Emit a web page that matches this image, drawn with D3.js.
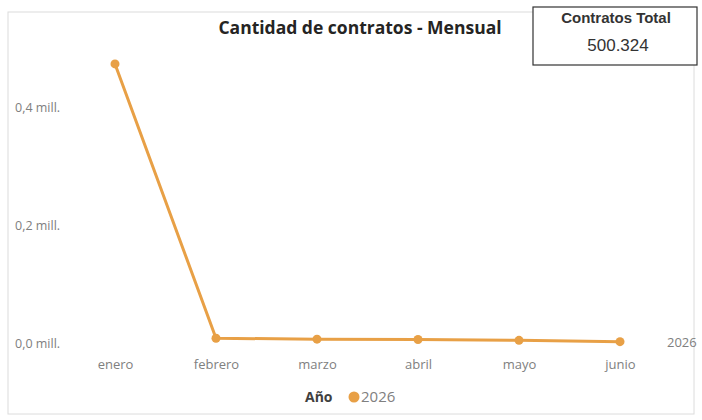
<!DOCTYPE html>
<html><head><meta charset="utf-8">
<script src="https://cdn.jsdelivr.net/npm/d3@7"></script>
<style>
html,body{margin:0;padding:0;background:#fff;}
svg{display:block;font-family:"Open Sans","Noto Sans",sans-serif;}
</style></head>
<body>
<svg id="c" width="702" height="420"></svg>
<script>
const months = ["enero","febrero","marzo","abril","mayo","junio"];
const values = [473024, 8000, 6500, 6000, 4500, 2300];
const yTicks = [0, 200000, 400000];
const seriesName = "2026";
const legendTitle = "Año";
const chartTitle = "Cantidad de contratos - Mensual";
const cardTitle = "Contratos Total";
const cardValue = "500.324";

const svg = d3.select("#c");
const color = "#E8A046";
const grey = "#808080";

// visual frame
svg.append("rect").attr("x",8).attr("y",12).attr("width",686).attr("height",402)
  .attr("fill","#fff").attr("stroke","#dcdcdc").attr("stroke-width",1);

const x = d3.scalePoint().domain(months).range([115, 620]);
const y = d3.scaleLinear().domain([0, 500000]).range([343, 48]);

// title
svg.append("text").attr("x",360).attr("y",34).attr("text-anchor","middle")
  .attr("font-size",17.5).attr("font-weight",700).attr("fill","#252423").text(chartTitle);

// y axis labels
const fmt = v => (v/1e6).toFixed(1).replace(".", ",") + " mill.";
const yAxis = d3.axisLeft(y).tickValues(yTicks).tickFormat(fmt).tickSize(0).tickPadding(0);
const yg = svg.append("g").attr("transform","translate(15,0)").call(yAxis);
yg.select(".domain").remove();
yg.selectAll("text").attr("text-anchor","start").attr("font-size",12.5)
  .attr("fill",grey).attr("font-family","'Open Sans','Noto Sans',sans-serif");

// x axis labels
const xAxis = d3.axisBottom(x).tickSize(0).tickPadding(0);
const xg = svg.append("g").attr("transform","translate(0,360)").call(xAxis);
xg.select(".domain").remove();
xg.selectAll("text").attr("font-size",13).attr("fill",grey)
  .attr("font-family","'Open Sans','Noto Sans',sans-serif");

// line
const line = d3.line().x((d,i)=>x(months[i])).y(d=>y(d));
svg.append("path").datum(values).attr("d",line).attr("fill","none")
  .attr("stroke",color).attr("stroke-width",3).attr("stroke-linejoin","round");
svg.selectAll("circle.pt").data(values).join("circle").attr("class","pt")
  .attr("cx",(d,i)=>x(months[i])).attr("cy",d=>y(d)).attr("r",4.5).attr("fill",color);

// series end label
svg.append("text").attr("x",667).attr("y",y(values[values.length-1])+5)
  .attr("font-size",13).attr("fill",grey).text(seriesName);

// legend
const lg = svg.append("g").attr("transform","translate(0,402)");
lg.append("text").attr("x",305).attr("y",0).attr("font-size",14).attr("font-weight",700)
  .attr("fill","#404040").text(legendTitle);
lg.append("circle").attr("cx",354).attr("cy",-5).attr("r",5.5).attr("fill",color);
lg.append("text").attr("x",361).attr("y",0).attr("font-size",15).attr("fill",grey).text(seriesName);

// card
const card = svg.append("g");
card.append("rect").attr("x",533).attr("y",7).attr("width",164).attr("height",58)
  .attr("fill","#fff").attr("stroke","#333").attr("stroke-width",1.2);
card.append("text").attr("x",616).attr("y",23).attr("text-anchor","middle")
  .attr("font-family","'Liberation Sans',Arial,sans-serif").attr("font-size",15)
  .attr("font-weight",700).attr("fill","#333").text(cardTitle);
card.append("text").attr("x",618).attr("y",51).attr("text-anchor","middle")
  .attr("font-family","'Liberation Sans',Arial,sans-serif").attr("font-size",17)
  .attr("fill","#333").text(cardValue);
</script>
</body></html>
